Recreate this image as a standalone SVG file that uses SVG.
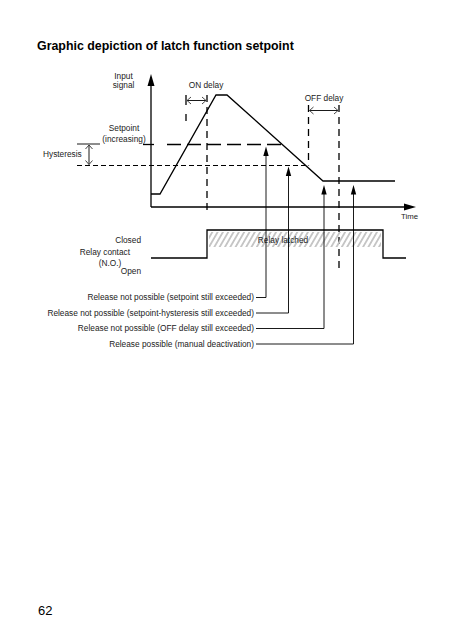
<svg xmlns="http://www.w3.org/2000/svg" width="454" height="640" viewBox="0 0 454 640">
<style>
text{font-family:"Liberation Sans",Arial,sans-serif;fill:#222;font-size:8.3px}
.title{font-size:12.4px;font-weight:bold;fill:#000}
.ln{stroke:#000;fill:none;stroke-width:1.3}
.thin{stroke:#000;fill:none;stroke-width:0.9}
.dl{stroke:#000;fill:none;stroke-width:1.3;stroke-dasharray:14 6}
.ds{stroke:#000;fill:none;stroke-width:1.2;stroke-dasharray:5 3}
.dv{stroke:#000;fill:none;stroke-width:1.3;stroke-dasharray:7 5}
.head{fill:#000}
.chev{stroke:#333;fill:none;stroke-width:0.9}
.e{text-anchor:end}
.m{text-anchor:middle}
</style>
<defs>
<pattern id="hatch" width="4.6" height="10" patternUnits="userSpaceOnUse" patternTransform="rotate(30)">
<rect x="0" y="0" width="1.8" height="10" fill="#c4c4c4"/>
</pattern>
</defs>
<text class="title" x="37" y="50">Graphic depiction of latch function setpoint</text>
<g id="axes">
<line class="ln" x1="151" y1="82" x2="151" y2="207"/>
<polygon class="head" points="151,74 147.5,86 154.5,86"/>
<line class="ln" x1="151" y1="207" x2="406" y2="207"/>
<polygon class="head" points="416,207 404,203.5 404,210.5"/>
<text x="123.5" y="79" class="m">Input</text>
<text x="123.5" y="88" class="m">signal</text>
<text x="401" y="219" style="font-size:7.8px">Time</text>
</g>
<g id="signal">
<polyline class="ln" points="151,194 160,194 216,95 227,95 323,181 395,181"/>
</g>
<g id="setpoint">
<line class="ln" x1="143" y1="144.5" x2="154" y2="144.5"/>
<line class="dl" x1="167" y1="144.5" x2="282" y2="144.5"/>
<text x="124" y="131" class="m">Setpoint</text>
<text x="124" y="142" class="m">(increasing)</text>
</g>
<g id="hysteresis">
<line class="thin" x1="77" y1="144" x2="100" y2="144"/>
<line class="ds" x1="77" y1="165.5" x2="308" y2="165.5"/>
<line class="thin" x1="89" y1="145" x2="89" y2="164.5"/>
<polyline class="chev" points="85.5,149 89,145 92.5,149"/>
<polyline class="chev" points="85.5,160.5 89,164.5 92.5,160.5"/>
<text x="43" y="157">Hysteresis</text>
</g>
<g id="on-delay">
<line class="ln" x1="186" y1="95" x2="186" y2="105"/>
<line class="dv" x1="186" y1="114" x2="186" y2="126"/>
<line class="dv" x1="207" y1="95" x2="207" y2="214"/>
<line class="thin" x1="187" y1="100.5" x2="206" y2="100.5"/>
<polyline class="chev" points="191,97 187,100.5 191,104"/>
<polyline class="chev" points="202,97 206,100.5 202,104"/>
<text x="206" y="88" class="m">ON delay</text>
</g>
<g id="off-delay">
<line class="dv" x1="308.5" y1="105" x2="308.5" y2="165.5"/>
<line class="dv" x1="339" y1="105" x2="339" y2="272"/>
<line class="thin" x1="309.5" y1="110.5" x2="338" y2="110.5"/>
<polyline class="chev" points="313.5,107 309.5,110.5 313.5,114"/>
<polyline class="chev" points="334,107 338,110.5 334,114"/>
<text x="324" y="101" class="m">OFF delay</text>
</g>
<g id="relay">
<rect x="209" y="232" width="172" height="15" fill="url(#hatch)"/>
<polyline class="ln" points="151,258 207,258 207,230 383,230 383,258 406,258"/>
<text x="283" y="243" class="m">Relay latched</text>
<text x="141" y="243" class="e">Closed</text>
<text x="130" y="255" class="e">Relay contact</text>
<text x="110" y="265.5" class="m">(N.O.)</text>
<text x="141" y="274" class="e">Open</text>
</g>
<g id="connectors">
<polyline class="thin" points="256,297.5 266,297.5 266,154"/>
<polygon class="head" points="266,146.5 263.3,156 268.7,156"/>
<polyline class="thin" points="256,313 288.5,313 288.5,174"/>
<polygon class="head" points="288.5,166.5 285.8,176 291.2,176"/>
<polyline class="thin" points="256,328.5 324,328.5 324,192"/>
<polygon class="head" points="324,185 321.3,194.5 326.7,194.5"/>
<polyline class="thin" points="256,344 353.5,344 353.5,192"/>
<polygon class="head" points="353.5,185 350.8,194.5 356.2,194.5"/>
</g>
<g id="labels">
<text x="254" y="300" class="e">Release not possible (setpoint still exceeded)</text>
<text x="254" y="316" class="e">Release not possible (setpoint-hysteresis still exceeded)</text>
<text x="254" y="331" class="e">Release not possible (OFF delay still exceeded)</text>
<text x="254" y="347" class="e">Release possible (manual deactivation)</text>
</g>
<text x="38" y="615" style="font-size:13px;fill:#000">62</text>
</svg>
